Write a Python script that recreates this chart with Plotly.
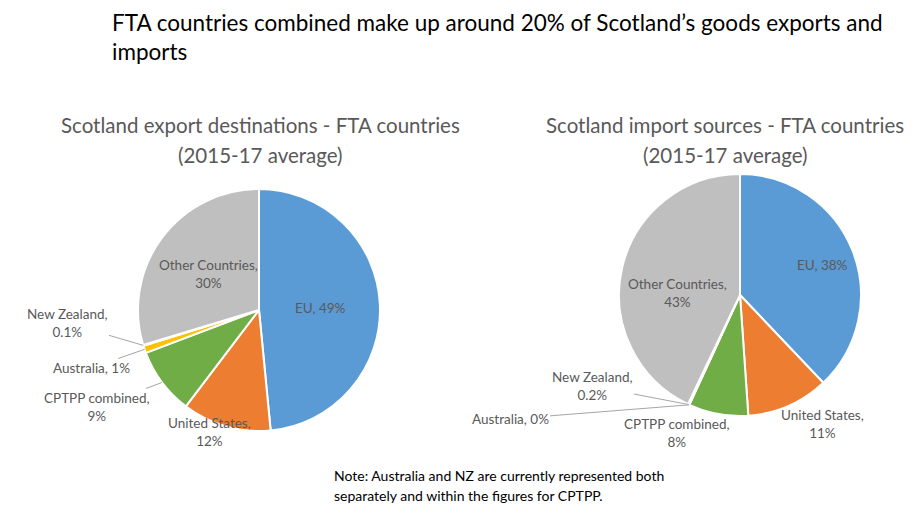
import math
import plotly.graph_objects as go

# Data
categories = ["EU", "United States", "CPTPP combined", "Australia", "New Zealand", "Other Countries"]
export_values = [49, 12, 9, 1, 0.1, 30]
export_labels = ["49%", "12%", "9%", "1%", "0.1%", "30%"]
import_values = [38, 11, 8, 0, 0.2, 43]
import_labels = ["38%", "11%", "8%", "0%", "0.2%", "43%"]

colors = ["#5B9BD5", "#ED7D31", "#70AD47", "#FFC000", "#4472C4", "#BFBFBF"]
W, H = 921, 516
FONT = "Lato"
GREY = "#595959"

# pie geometry in pixels (centre x, centre y, radius)
left_pie = (259, 310, 121)
right_pie = (740, 295, 121)


def domain(p):
    cx, cy, r = p
    return dict(x=[(cx - r) / W, (cx + r) / W], y=[1 - (cy + r) / H, 1 - (cy - r) / H])


def slice_point(p, values, i):
    # point on the slice edge, clockwise from 12 o'clock
    cx, cy, r = p
    tot = sum(values)
    mid = (sum(values[:i]) + values[i] / 2) / tot * 2 * math.pi
    return cx + r * math.sin(mid), cy - r * math.cos(mid)


fig = go.Figure()
for p, vals in [(left_pie, export_values), (right_pie, import_values)]:
    fig.add_trace(go.Pie(
        labels=categories, values=vals, domain=domain(p),
        sort=False, direction="clockwise", rotation=0,
        marker=dict(colors=colors, line=dict(color="white", width=2)),
        textinfo="none", hoverinfo="label+percent", showlegend=False,
    ))

ann = []


def text(t, x, y, size, color, xanchor="center"):
    ann.append(dict(text=t, xref="paper", yref="paper", x=x / W, y=1 - y / H,
                    xanchor=xanchor, yanchor="middle", showarrow=False, align="center",
                    font=dict(family=FONT, size=size, color=color)))


def label(t, x, y, target=None):
    a = dict(text=t, xref="paper", yref="paper", x=x / W, y=1 - y / H,
             xanchor="center", yanchor="middle", showarrow=False,
             font=dict(family=FONT, size=13.5, color=GREY), align="center")
    if target is not None:
        tx, ty = target
        a.update(x=tx / W, y=1 - ty / H, ax=x - tx, ay=y - ty, showarrow=True,
                 arrowhead=0, arrowwidth=1, arrowcolor="#A6A6A6", standoff=0)
    ann.append(a)


def pie_labels(p, values, pct, spots):
    for i, (x, y, arrow) in enumerate(spots):
        sep = ", " if i in (0, 3) else ",<br>"
        label(categories[i] + sep + pct[i], x, y, slice_point(p, values, i) if arrow else None)


# text centre positions in px
pie_labels(left_pie, export_values, export_labels,
           [(320, 308, False), (209, 432, False), (97, 407, True),
            (91, 368, True), (67, 323, True), (208, 274, False)])
pie_labels(right_pie, import_values, import_labels,
           [(822, 265, False), (822, 424, False), (677, 433, False),
            (510, 419, True), (592, 386, True), (677, 293, False)])

# titles
ann.append(dict(text="FTA countries combined make up around 20% of Scotland’s goods exports and<br>imports",
                xref="paper", yref="paper", x=110 / W, y=1 - 7 / H, xanchor="left", yanchor="top",
                showarrow=False, align="left", font=dict(family=FONT, size=22.5, color="black")))
text("Scotland export destinations - FTA countries", 260, 125, 20.5, GREY)
text("(2015-17 average)", 260, 155, 20.5, GREY)
text("Scotland import sources - FTA countries", 725, 125, 20.5, GREY)
text("(2015-17 average)", 725, 155, 20.5, GREY)
text("Note: Australia and NZ are currently represented both", 332, 475, 14, "black", "left")
text("separately and within the figures for CPTPP.", 332, 495, 14, "black", "left")

fig.update_layout(width=W, height=H, margin=dict(l=0, r=0, t=0, b=0),
                  paper_bgcolor="white", plot_bgcolor="white", annotations=ann)
fig.write_html("out.html", config={"displayModeBar": False},
               post_script="document.body.style.margin='0px';")
